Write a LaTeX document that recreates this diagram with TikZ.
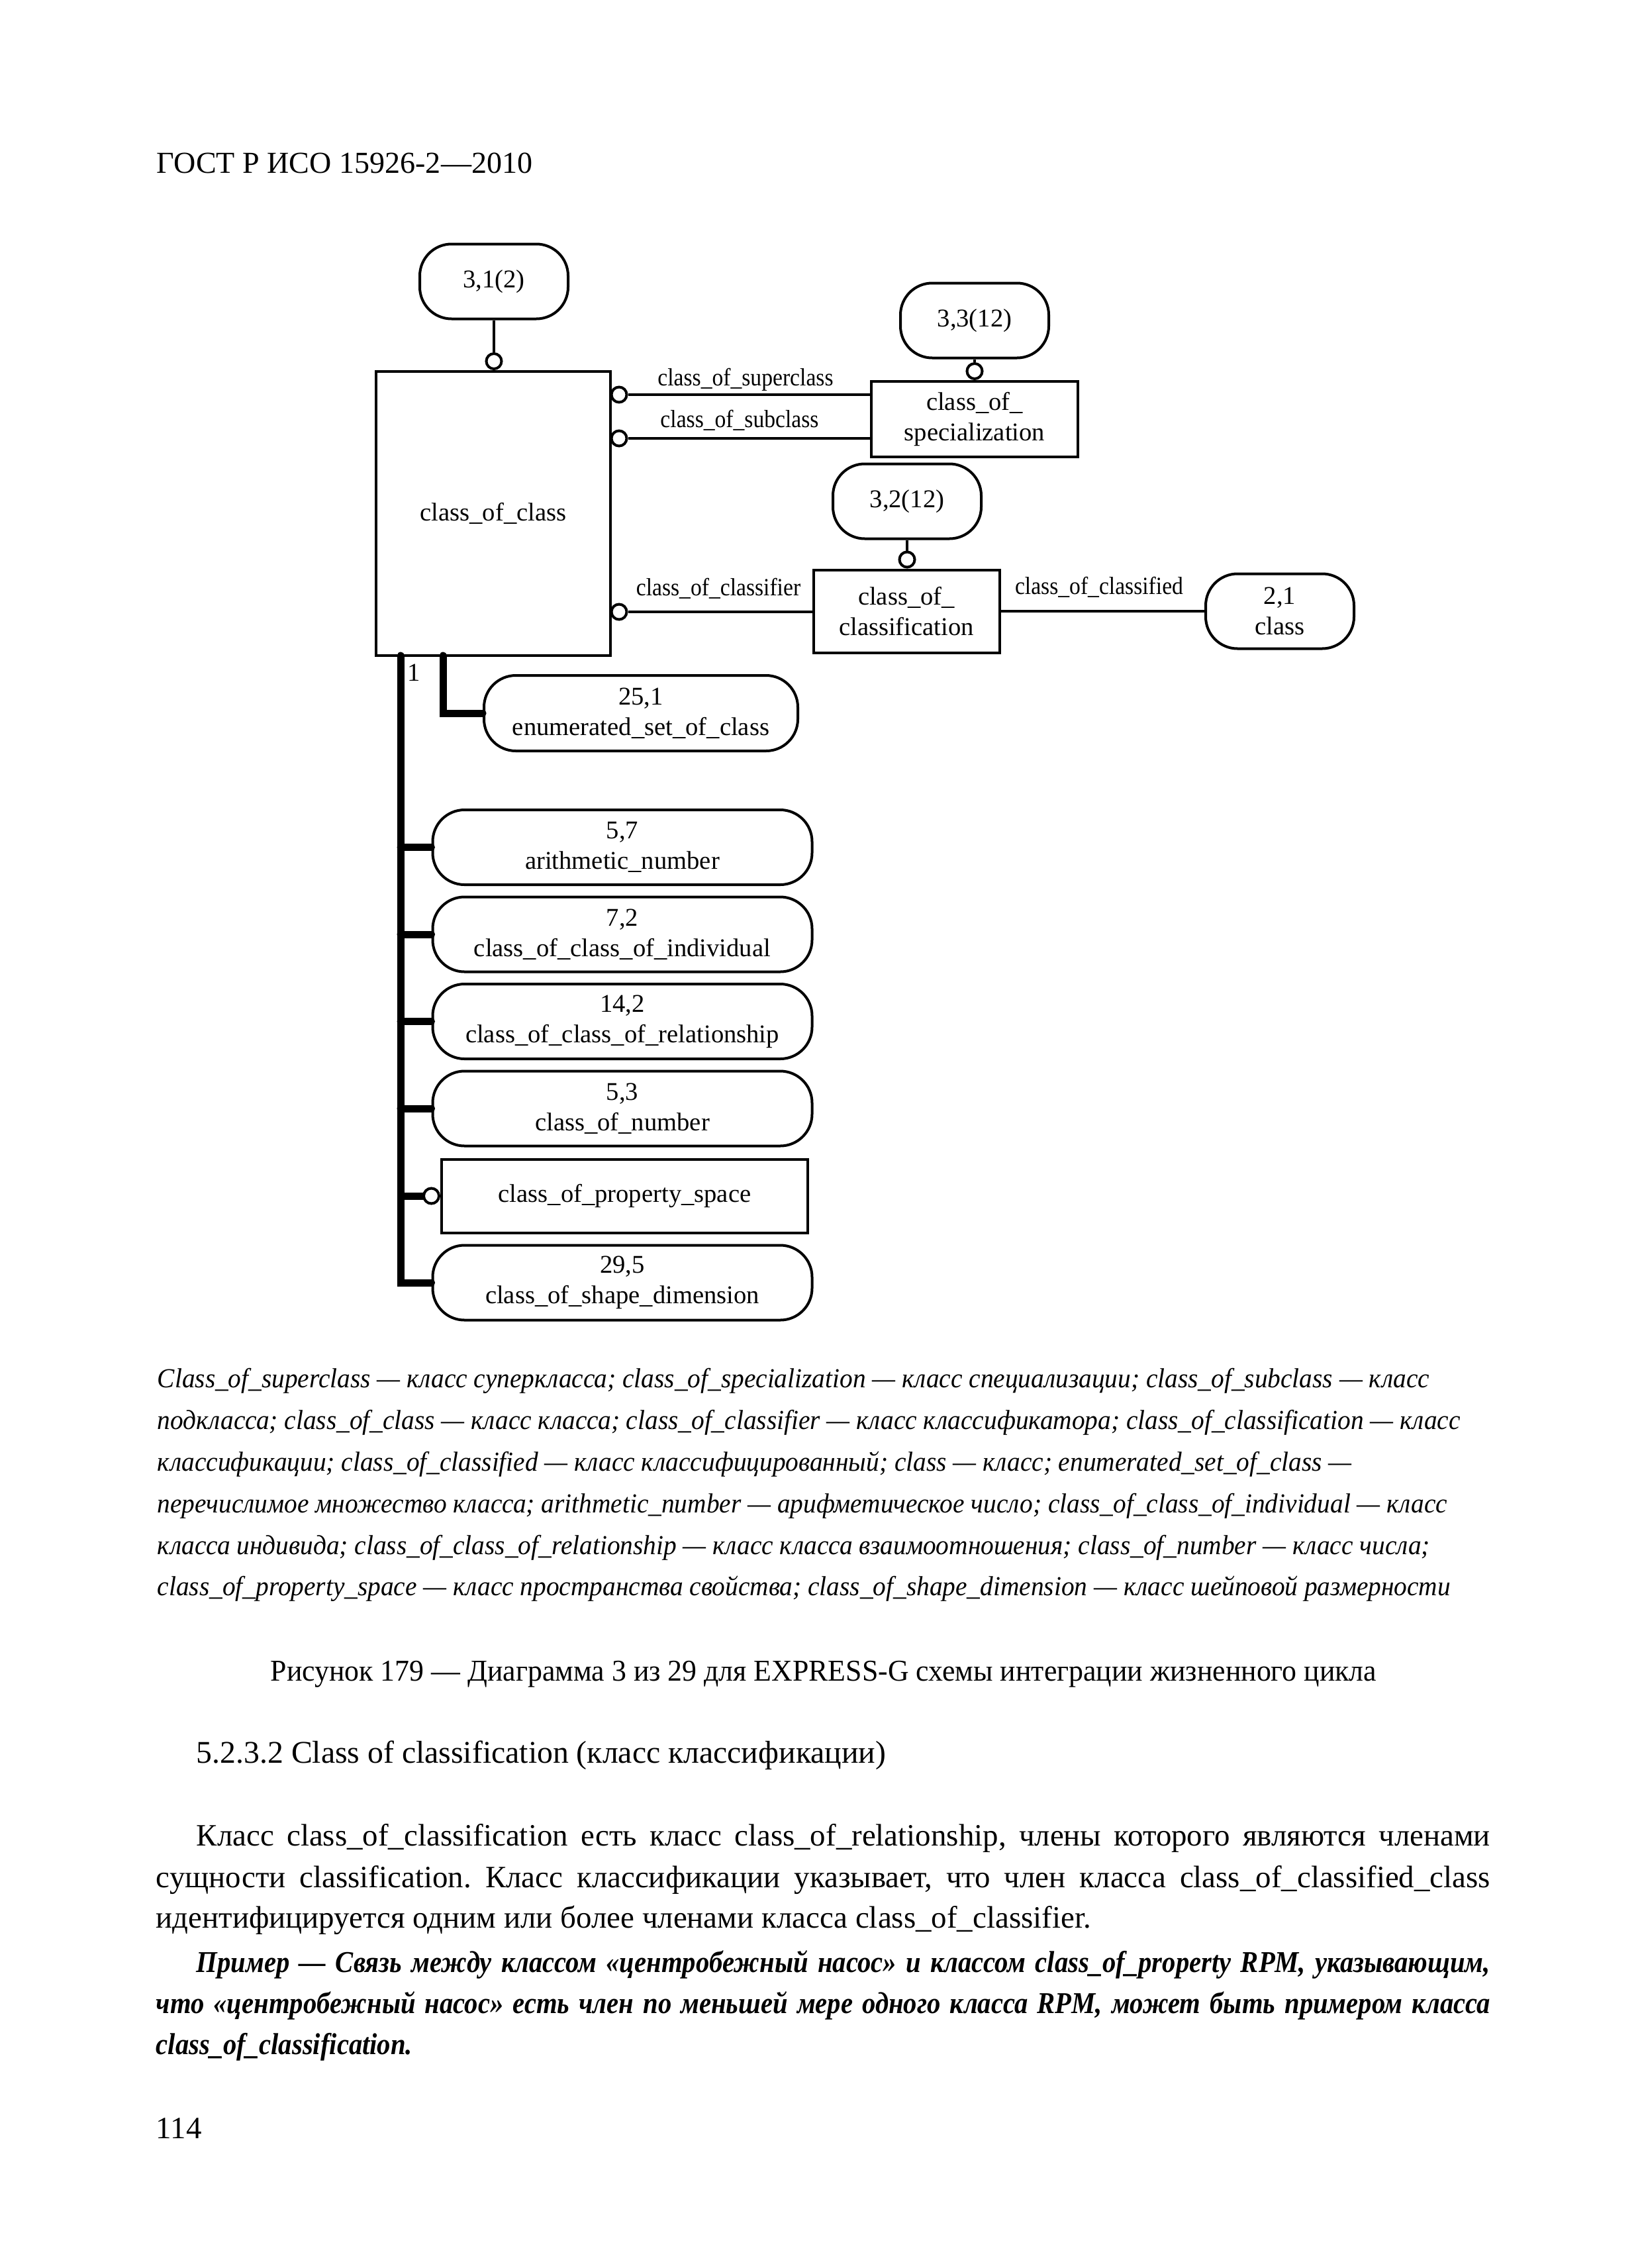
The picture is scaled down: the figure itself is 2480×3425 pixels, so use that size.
\documentclass[tikz,border=0pt]{standalone}
\usepackage{fontspec}
\setmainfont{Liberation Serif}
\newfontfamily\labfam[FakeStretch=0.9]{Liberation Serif}
\newfontfamily\lgfam[FakeStretch=0.948]{Liberation Serif}
\newfontfamily\capfam[FakeStretch=0.96]{Liberation Serif}
\newfontfamily\exfam[FakeStretch=0.89]{Liberation Serif}
\newlength\pxu
\setlength\pxu{0.0846667mm}
\newcommand\bxf{\fontsize{9.3pt}{11.1pt}\selectfont}
\newcommand\lbf{\labfam\fontsize{9pt}{11pt}\selectfont}
\newcommand\hdrf{\fontsize{11.1pt}{13pt}\selectfont}
\newcommand\lgf{\lgfam\itshape\fontsize{10pt}{12pt}\selectfont}
\newcommand\cpf{\capfam\fontsize{11pt}{13pt}\selectfont}
\newcommand\scf{\fontsize{11.5pt}{13pt}\selectfont}
\newcommand\bdf{\fontsize{11.3pt}{13pt}\selectfont}
\newcommand\exf{\exfam\bfseries\itshape\fontsize{11pt}{13pt}\selectfont}
\frenchspacing
\begin{document}
\frenchspacing
\begin{tikzpicture}[x=0.0846667mm, y=-0.0846667mm]
\tikzset{
  ent/.style={draw, rectangle, inner sep=0pt, font=\bxf, align=center, line width=4\pxu},
  refb/.style={draw, rectangle, rounded corners=48\pxu, inner sep=0pt, font=\bxf, align=center, line width=4\pxu, minimum width=224\pxu, minimum height=113\pxu},
  wideref/.style={refb, minimum width=573\pxu, minimum height=113\pxu},
  ring/.style={draw, circle, inner sep=0pt, minimum size=23\pxu, fill=white, line width=4\pxu},
  conn/.style={line width=4\pxu},
  subt/.style={line width=11\pxu, line cap=round},
  lab/.style={font=\lbf, inner sep=0pt, anchor=base},
  txt/.style={inner sep=0pt, anchor=base west},
}
\fill[white] (0,0) rectangle (2480,3425);
\useasboundingbox (0,0) rectangle (2480,3425);

% header
\node[txt] (hdr) at (236,261) {\hdrf ГОСТ Р ИСО 15926-2—2010};

% class_of_class and its reference
\node[refb] (r312) at (746,425) {3,1(2)};
\node[ent, minimum width=354\pxu, minimum height=429\pxu] (coc) at (745,775.5) {class\_of\_class};
\node[ring, anchor=south] (c312) at (r312 |- coc.north) {};
\draw[conn] (r312.south) -- (c312.north);

% specialization
\node[ent, minimum width=312\pxu, minimum height=114\pxu] (cos) at (1472,633) {class\_of\_\\specialization};
\node[refb] (r333) at (1472,484) {3,3(12)};
\node[ring, anchor=south] (c333) at (r333 |- cos.north) {};
\draw[conn] (r333.south) -- (c333.north);

\node[ring] (csup) at (935,596) {};
\node[ring] (csub) at (935,662) {};
\draw[conn] (csup.east) -- (csup.east -| cos.west);
\draw[conn] (csub.east) -- (csub.east -| cos.west);
\node[lab] (lsup) at (1126,582) {class\_of\_superclass};
\node[lab] (lsub) at (1117,645) {class\_of\_subclass};

% classification
\node[ent, minimum width=281\pxu, minimum height=125\pxu] (cocl) at (1369,923) {class\_of\_\\classification};
\node[refb] (r322) at (1370,757) {3,2(12)};
\node[ring, anchor=south] (c322) at (r322 |- cocl.north) {};
\draw[conn] (r322.south) -- (c322.north);
\node[ring] (ccls) at (935,924) {};
\draw[conn] (ccls.east) -- (ccls.east -| cocl.west);
\node[lab] (lcls) at (1085,899) {class\_of\_classifier};
\node[refb] (r21) at (1933,923) {2,1\\class};
\draw[conn] (cocl.east |- r21.west) -- (r21.west);
\node[lab] (lcld) at (1660,897) {class\_of\_classified};

% subtypes
\node[refb, minimum width=474\pxu, minimum height=114\pxu] (r251) at (968,1077) {25,1\\enumerated\_set\_of\_class};
\node[wideref] (r57) at (940,1279.5) {5,7\\arithmetic\_number};
\node[wideref] (r72) at (940,1411) {7,2\\class\_of\_class\_of\_individual};
\node[wideref] (r142) at (940,1542.5) {14,2\\class\_of\_class\_of\_relationship};
\node[wideref] (r53) at (940,1674) {5,3\\class\_of\_number};
\node[ent, minimum width=553\pxu, minimum height=111\pxu] (cps) at (943.5,1806) {class\_of\_property\_space};
\node[wideref] (r295) at (940,1937) {29,5\\class\_of\_shape\_dimension};

\coordinate (t1) at (605,990);
\coordinate (t2) at (669,990);
\coordinate (pw) at ([xshift=-23\pxu]cps.west);
\draw[subt] (t1) |- (r295.west);
\foreach \n in {r57,r72,r142,r53} \draw[subt] (t1 |- \n.west) -- (\n.west);
\draw[subt, line cap=butt] (t1 |- cps.west) -- (pw);
\node[ring, anchor=east] (cpsr) at (cps.west) {};
\draw[subt] (t2) |- (r251.west);
\node[font=\bxf, inner sep=0pt, anchor=base] (one) at (625,1028) {1};

% legend
\node[txt] (lg1) at (237,2095) {\lgf Class\_of\_superclass — класс суперкласса; class\_of\_specialization — класс специализации; class\_of\_subclass — класс};
\node[txt] (lg2) at (237,2158) {\lgf подкласса; class\_of\_class — класс класса; class\_of\_classifier — класс классификатора; class\_of\_classification — класс};
\node[txt] (lg3) at (237,2221) {\lgf классификации; class\_of\_classified — класс классифицированный; class — класс; enumerated\_set\_of\_class —};
\node[txt] (lg4) at (237,2284) {\lgf перечислимое множество класса; arithmetic\_number — арифметическое число; class\_of\_class\_of\_individual — класс};
\node[txt] (lg5) at (237,2347) {\lgf класса индивида; class\_of\_class\_of\_relationship — класс класса взаимоотношения; class\_of\_number — класс числа;};
\node[txt] (lg6) at (237,2409) {\lgf class\_of\_property\_space — класс пространства свойства; class\_of\_shape\_dimension — класс шейповой размерности};

% caption and heading
\node[inner sep=0pt, anchor=base] (cap) at (1244,2538) {\cpf Рисунок 179 — Диаграмма 3 из 29 для EXPRESS-G схемы интеграции жизненного цикла};
\node[txt] (sec) at (296,2662) {\scf 5.2.3.2 Class of classification (класс классификации)};

% body
\node[txt] (b1) at (296,2787) {\hbox to 1954\pxu{\bdf Класс class\_of\_classification есть класс class\_of\_relationship, члены которого являются членами}};
\node[txt] (b2) at (235,2850) {\hbox to 2015\pxu{\bdf сущности classification. Класс классификации указывает, что член класса class\_of\_classified\_class}};
\node[txt] (b3) at (235,2911) {\bdf идентифицируется одним или более членами класса class\_of\_classifier.};

% example
\node[txt] (e1) at (296,2978) {\hbox to 1954\pxu{\exf Пример — Связь между классом «центробежный насос» и классом class\_of\_property RPM, указывающим,}};
\node[txt] (e2) at (235,3040) {\hbox to 2015\pxu{\exf что «центробежный насос» есть член по меньшей мере одного класса RPM, может быть примером класса}};
\node[txt] (e3) at (235,3102) {\exf class\_of\_classification.};

\node[txt] (pg) at (235,3229) {\bdf 114};
\end{tikzpicture}
\end{document}
